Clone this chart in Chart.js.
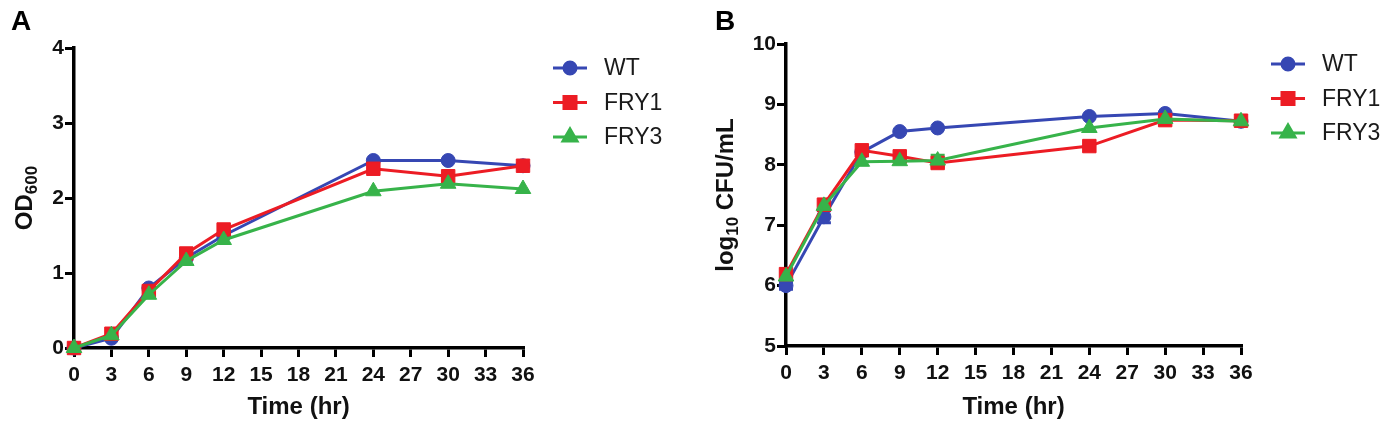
<!DOCTYPE html>
<html>
<head>
<meta charset="utf-8">
<script src="https://cdn.jsdelivr.net/npm/chart.js@4/dist/chart.umd.min.js"></script>
<style>
    body { margin: 0; background: #fff; }
    .panel { position: absolute; top: 0; width: 694px; height: 425px; }
</style>
</head>
<body>
<div class="panel" style="left:0"><canvas id="chart-a" width="694" height="425"></canvas></div>
<div class="panel" style="left:694px"><canvas id="chart-b" width="694" height="425"></canvas></div>
<script>
/* growth curves: OD600 (A) and viable counts (B) */

const hours = [0, 3, 6, 9, 12, 24, 30, 36];
const xTicks = [0, 3, 6, 9, 12, 15, 18, 21, 24, 27, 30, 33, 36];
const strains = ['WT', 'FRY1', 'FRY3'];

// panel A - OD600
const odWT   = [0, 0.13, 0.80, 1.20, 1.50, 2.50, 2.50, 2.43];
const odFRY1 = [0, 0.19, 0.76, 1.26, 1.58, 2.39, 2.29, 2.43];
const odFRY3 = [0, 0.17, 0.71, 1.16, 1.44, 2.09, 2.19, 2.12];
const odTicks = [0, 1, 2, 3, 4];

// panel B - log10 CFU/mL (+ sd)
const cfuWT   = [6.00, 7.14, 8.21, 8.55, 8.61, 8.80, 8.85, 8.72];
const cfuFRY1 = [6.19, 7.34, 8.24, 8.14, 8.03, 8.31, 8.74, 8.73];
const cfuFRY3 = [6.15, 7.32, 8.05, 8.06, 8.07, 8.61, 8.76, 8.72];
const sdWT    = [0.06, 0.10, 0, 0, 0, 0, 0, 0];
const sdFRY1  = [0, 0, 0, 0, 0, 0, 0, 0];
const sdFRY3  = [0, 0, 0, 0, 0.09, 0, 0, 0];
const cfuTicks = [5, 6, 7, 8, 9, 10];

const COLORS = ['#3647b3', '#ec1c24', '#37b34a'];
const SHAPES = ['circle', 'rect', 'triangle'];
const RADII = [7, 9.5, 9];
const FONT = '"Liberation Sans", Arial, sans-serif';

function makeDatasets(series, errs) {
    return series.map((vals, i) => ({
        label: strains[i],
        data: hours.map((h, k) => ({ x: h, y: vals[k] })),
        err: errs ? errs[i] : null,
        borderColor: COLORS[i],
        backgroundColor: COLORS[i],
        borderWidth: 3,
        pointStyle: SHAPES[i],
        pointRadius: RADII[i],
        pointBorderWidth: 1,
        pointBackgroundColor: COLORS[i],
        tension: 0,
        clip: false,
        order: 2 - i
    }));
}

// error bars, legend, rotated titles with subscript, panel letter
const decor = {
    id: 'decor',
    beforeDatasetsDraw(chart) {
        const ctx = chart.ctx, ys = chart.scales.y, xs = chart.scales.x;
        chart.data.datasets.forEach((ds, i) => {
            if (!ds.err) return;
            ctx.save();
            ctx.strokeStyle = COLORS[i];
            ctx.lineWidth = 3;
            ds.data.forEach((p, k) => {
                const e = ds.err[k];
                if (!e) return;
                const px = xs.getPixelForValue(p.x);
                const y1 = ys.getPixelForValue(p.y - e), y2 = ys.getPixelForValue(p.y + e);
                ctx.beginPath();
                ctx.moveTo(px, y1); ctx.lineTo(px, y2);
                ctx.moveTo(px - 7, y1); ctx.lineTo(px + 7, y1);
                ctx.moveTo(px - 7, y2); ctx.lineTo(px + 7, y2);
                ctx.stroke();
            });
            ctx.restore();
        });
    },
    afterDraw(chart, args, opts) {
        const ctx = chart.ctx, area = chart.chartArea;
        ctx.save();
        // legend
        chart.data.datasets.forEach((ds, i) => {
            const y = area.top + 20 + i * 34.5;
            const x0 = area.right + 30;
            ctx.strokeStyle = COLORS[i];
            ctx.lineWidth = 3;
            ctx.beginPath();
            ctx.moveTo(x0, y); ctx.lineTo(x0 + 34, y);
            ctx.stroke();
            Chart.helpers.drawPoint(ctx, {
                pointStyle: SHAPES[i], radius: RADII[i] - 1, borderWidth: 1, rotation: 0
            }, x0 + 17, y);
            ctx.fillStyle = COLORS[i];
            ctx.fill();
            ctx.fillStyle = '#1a1a1a';
            ctx.font = `23px ${FONT}`;
            ctx.textBaseline = 'middle';
            ctx.textAlign = 'left';
            ctx.fillText(ds.label, area.right + 81, y + 1);
        });

        // x title
        ctx.fillStyle = '#111';
        ctx.font = `bold 24px ${FONT}`;
        ctx.textAlign = 'center';
        ctx.textBaseline = 'alphabetic';
        ctx.fillText('Time (hr)', (area.left + area.right) / 2, 414);

        // y title, rotated, with subscript
        const cy = (area.top + area.bottom) / 2;
        ctx.translate(area.left - opts.titleGap, cy);
        ctx.rotate(-Math.PI / 2);
        const big = `bold 24px ${FONT}`, small = `bold 17px ${FONT}`;
        ctx.font = big;
        const w1 = ctx.measureText(opts.pre).width;
        const w3 = ctx.measureText(opts.post).width;
        ctx.font = small;
        const w2 = ctx.measureText(opts.sub).width;
        let x = -(w1 + w2 + w3) / 2;
        ctx.textAlign = 'left';
        ctx.font = big;
        ctx.fillText(opts.pre, x, 0);
        x += w1;
        ctx.font = small;
        ctx.fillText(opts.sub, x, 5);
        x += w2;
        ctx.font = big;
        ctx.fillText(opts.post, x, 0);
        ctx.restore();

        // panel letter
        ctx.save();
        ctx.fillStyle = '#000';
        ctx.font = `bold 28px ${FONT}`;
        ctx.textBaseline = 'top';
        ctx.fillText(opts.letter, opts.letterX, 8);
        ctx.restore();
    }
};

function makeChart(id, datasets, yMin, yMax, yTickVals, cfg) {
    return new Chart(document.getElementById(id), {
        type: 'line',
        data: { datasets },
        options: {
            responsive: false,
            animation: false,
            events: [],
            layout: { padding: { top: cfg.top, left: 0, right: cfg.right, bottom: 0 } },
            plugins: {
                legend: { display: false },
                tooltip: { enabled: false },
                decor: cfg.decor
            },
            scales: {
                x: {
                    type: 'linear',
                    min: 0, max: 36,
                    afterBuildTicks: s => { s.ticks = xTicks.map(v => ({ value: v })); },
                    afterFit: s => { s.height = cfg.xHeight; },
                    border: { display: true, color: '#000', width: 3.5 },
                    grid: { drawOnChartArea: false, drawTicks: true, tickLength: 9, color: '#000', lineWidth: 3 },
                    ticks: { color: '#111', font: { family: FONT, size: 21, weight: 'bold' }, padding: 6, maxRotation: 0 }
                },
                y: {
                    min: yMin, max: yMax,
                    afterBuildTicks: s => { s.ticks = yTickVals.map(v => ({ value: v })); },
                    afterFit: s => { s.width = cfg.yWidth; },
                    border: { display: true, color: '#000', width: 3.5 },
                    grid: { drawOnChartArea: false, drawTicks: true, tickLength: 9, color: '#000', lineWidth: 3 },
                    ticks: { color: '#111', font: { family: FONT, size: 21, weight: 'bold' }, padding: 1 }
                }
            }
        },
        plugins: [decor]
    });
}

makeChart('chart-a', makeDatasets([odWT, odFRY1, odFRY3], null), 0, 4, odTicks, {
    top: 48, right: 694 - 523, xHeight: 425 - 348, yWidth: 74,
    decor: { pre: 'OD', sub: '600', post: '', titleGap: 42, letter: 'A', letterX: 11 }
});

makeChart('chart-b', makeDatasets([cfuWT, cfuFRY1, cfuFRY3], [sdWT, sdFRY1, sdFRY3]), 5, 10, cfuTicks, {
    top: 44, right: 694 - 547, xHeight: 425 - 346, yWidth: 92,
    decor: { pre: 'log', sub: '10', post: ' CFU/mL', titleGap: 53, letter: 'B', letterX: 21 }
});
</script>
</body>
</html>
